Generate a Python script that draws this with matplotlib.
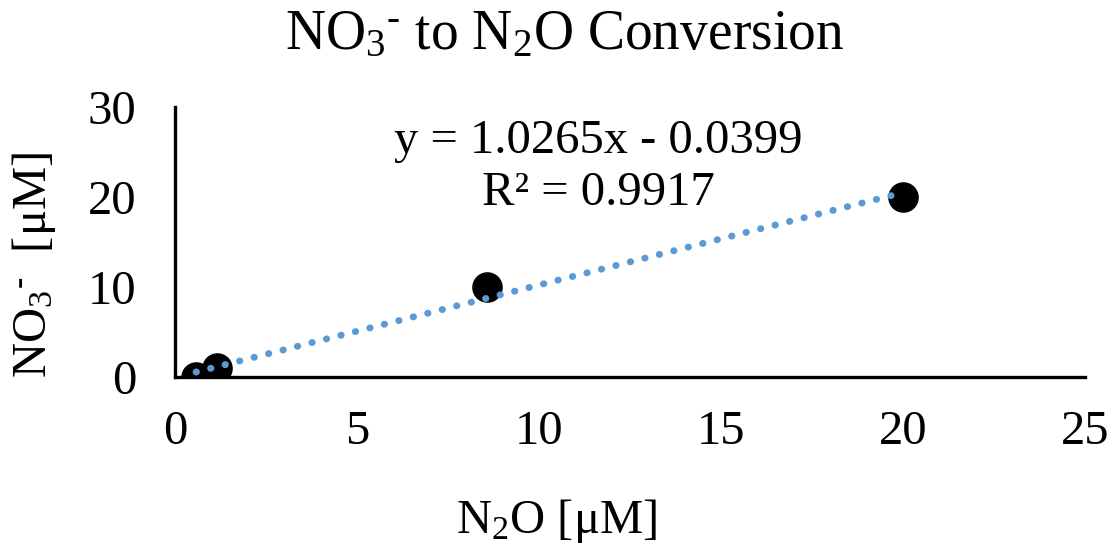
import matplotlib
matplotlib.use("Agg")
import matplotlib.pyplot as plt
import numpy as np

plt.rcParams['font.family'] = ['Liberation Serif', 'DejaVu Serif']
plt.rcParams['mathtext.fontset'] = 'custom'
plt.rcParams['mathtext.rm'] = 'Liberation Serif'
plt.rcParams['mathtext.it'] = 'Liberation Serif:italic'
plt.rcParams['mathtext.default'] = 'rm'

n2o = [0.58, 1.15, 8.57, 20.0]
no3 = [0.0, 1.0, 10.0, 20.0]
slope, intercept = 1.0265, -0.0399
eq_text = 'y = 1.0265x - 0.0399'
r2_text = 'R² = 0.9917'
xticks = [0, 5, 10, 15, 20, 25]
yticks = [0, 10, 20, 30]

fig = plt.figure(figsize=(11.19, 5.48), dpi=100)
ax = fig.add_axes([0.1564, 0.312, 0.8132, 0.4927])

xs = np.array([min(n2o), max(n2o)])
ax.plot(xs, slope * xs + intercept, linestyle=(0, (0.05, 2.1)), color='#5B9BD5',
        linewidth=5.0, dash_capstyle='round', zorder=3)
ax.scatter(n2o, no3, s=21**2, color='black', zorder=2)

ax.set_xlim(0, 25)
ax.set_ylim(0, 30)
ax.set_xticks(xticks)
ax.set_yticks(yticks)
ax.tick_params(length=0, labelsize=35)
ax.tick_params(axis='x', pad=24)
ax.tick_params(axis='y', pad=28)
for s in ['top', 'right']:
    ax.spines[s].set_visible(False)
for s in ['left', 'bottom']:
    ax.spines[s].set_linewidth(2.4)

fig.text(0.505, 0.935, r'NO$_3$$^{\text{-}}$ to N$_2$O Conversion', ha='center', va='center', fontsize=40)
fig.text(0.497, 0.05, r'N$_2$O [μM]', ha='center', va='center', fontsize=35)
fig.text(0.03, 0.516, r'NO$_3$$^{\text{-}}$  [μM]', ha='center', va='center', fontsize=35, rotation=90)

fig.text(598 / 1119, 1 - 141 / 548, eq_text, ha='center', va='center', fontsize=35)
fig.text(598 / 1119, 1 - 193 / 548, r2_text, ha='center', va='center', fontsize=35)

fig.savefig('out.png', dpi=100)
